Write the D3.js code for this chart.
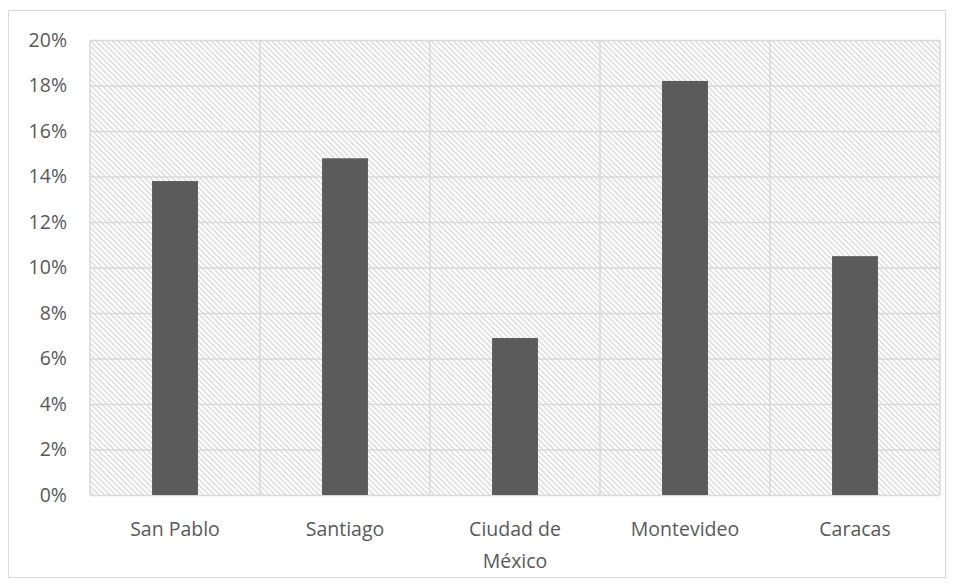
<!DOCTYPE html>
<html>
<head>
<meta charset="utf-8">
<script src="https://cdn.jsdelivr.net/npm/d3@7"></script>
<style>
html,body{margin:0;padding:0;background:#fff;}
svg{display:block;}
text{font-family:"Open Sans","Noto Sans",sans-serif;fill:#595959;}
</style>
</head>
<body>
<svg id="chart" width="954" height="584"></svg>
<script>
const categories = ["San Pablo", "Santiago", "Ciudad de México", "Montevideo", "Caracas"];
const categoryLines = [["San Pablo"], ["Santiago"], ["Ciudad de", "México"], ["Montevideo"], ["Caracas"]];
const values = [0.138, 0.148, 0.069, 0.182, 0.105];
const yTicks = [0, 0.02, 0.04, 0.06, 0.08, 0.10, 0.12, 0.14, 0.16, 0.18, 0.20];

const svg = d3.select("#chart");
const W = 954, H = 584;
const m = {left: 90, right: 14, top: 40, bottom: 89};
const FS = 19.5;

// outer border
svg.append("rect").attr("x", 8.5).attr("y", 10.5).attr("width", 937).attr("height", 567)
  .attr("fill", "#fff").attr("stroke", "#d9d9d9").attr("stroke-width", 1);

const defs = svg.append("defs");
const P = 5.5;
const pat = defs.append("pattern").attr("id", "hatch").attr("patternUnits", "userSpaceOnUse")
  .attr("width", P).attr("height", P);
pat.append("rect").attr("width", P).attr("height", P).attr("fill", "#fff");
pat.append("path").attr("d", `M-1,-1L${P + 1},${P + 1}M-1,${P - 1}L1,${P + 1}M${P - 1},-1L${P + 1},1`)
  .attr("stroke", "#d6d6d6").attr("stroke-width", 1.3);

const x = d3.scaleBand().domain(categories).range([m.left, W - m.right]).paddingInner(0.73).paddingOuter(0.365);
const xGrid = d3.scaleBand().domain(categories).range([m.left, W - m.right]);
const y = d3.scaleLinear().domain([0, 0.20]).range([H - m.bottom, m.top]);

// plot area
svg.append("rect").attr("x", m.left).attr("y", m.top)
  .attr("width", W - m.right - m.left).attr("height", H - m.bottom - m.top)
  .attr("fill", "url(#hatch)");

// horizontal gridlines
svg.append("g").attr("transform", `translate(${m.left},0)`)
  .call(d3.axisLeft(y).tickValues(yTicks).tickSize(-(W - m.right - m.left)).tickFormat(""))
  .call(g => g.select(".domain").remove())
  .call(g => g.selectAll("line").attr("stroke", "#d9d9d9").attr("stroke-width", 1.5));

// vertical gridlines
const vx = categories.map(c => xGrid(c)).concat([W - m.right]);
svg.append("g").selectAll("line").data(vx).join("line")
  .attr("x1", d => d).attr("x2", d => d).attr("y1", m.top).attr("y2", H - m.bottom)
  .attr("stroke", "#d9d9d9").attr("stroke-width", 1.5);

// bars
svg.append("g").selectAll("rect").data(values).join("rect")
  .attr("x", (d, i) => x(categories[i]))
  .attr("width", x.bandwidth())
  .attr("y", d => y(d))
  .attr("height", d => y(0) - y(d))
  .attr("fill", "#5b5b5b");

// y tick labels
svg.append("g").attr("transform", `translate(${m.left},0)`)
  .call(d3.axisLeft(y).tickValues(yTicks).tickSize(0).tickPadding(23).tickFormat(d3.format(".0%")))
  .call(g => g.select(".domain").remove())
  .call(g => g.selectAll("text").attr("font-size", FS).attr("fill", "#595959")
    .style("font-family", '"Open Sans","Noto Sans",sans-serif'));

// x labels
const xl = svg.append("g");
categories.forEach((c, i) => {
  const cx = xGrid(c) + xGrid.bandwidth() / 2;
  const t = xl.append("text").attr("text-anchor", "middle").attr("font-size", FS)
    .attr("x", cx).attr("y", 536);
  categoryLines[i].forEach((ln, j) => {
    t.append("tspan").attr("x", cx).attr("dy", j === 0 ? 0 : 32).text(ln);
  });
});
</script>
</body>
</html>
